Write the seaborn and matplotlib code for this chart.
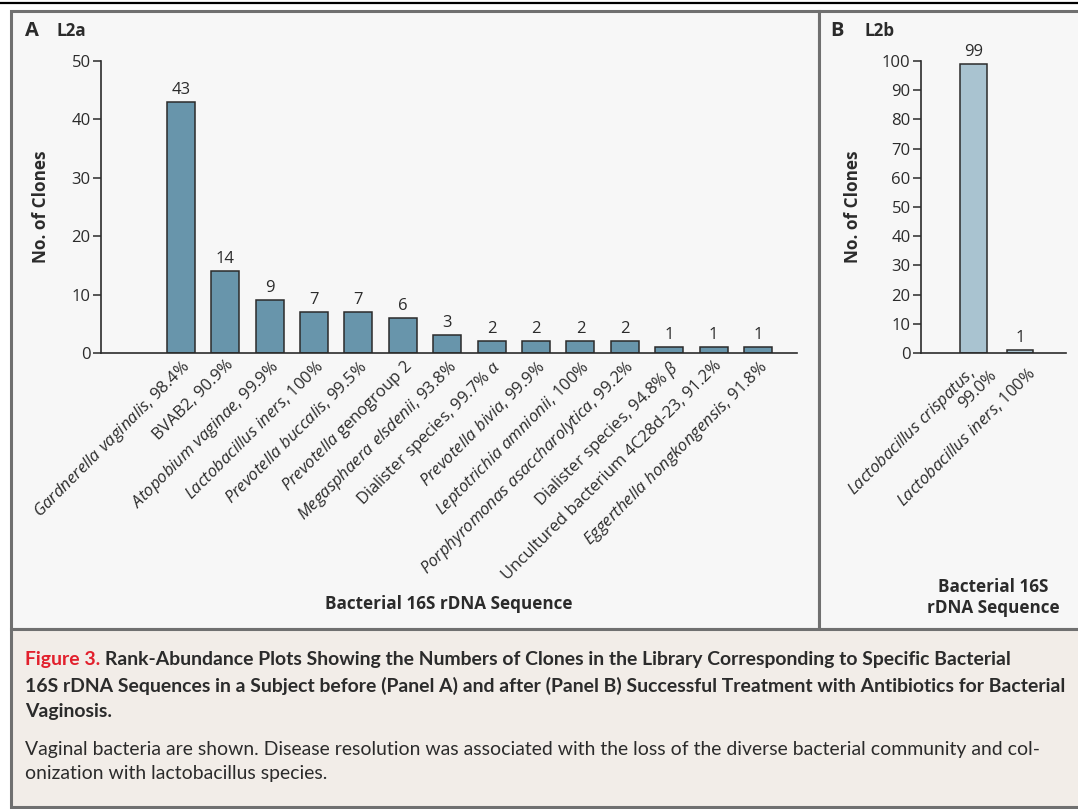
import matplotlib
matplotlib.use("Agg")
import matplotlib.pyplot as plt
import seaborn as sns
import pandas as pd
from matplotlib.patches import Rectangle
from matplotlib.lines import Line2D

# ---- data -------------------------------------------------------------
labels_a = [
    r"$\mathit{Gardnerella\ vaginalis}$, 98.4%",
    "BVAB2, 90.9%",
    r"$\mathit{Atopobium\ vaginae}$, 99.9%",
    r"$\mathit{Lactobacillus\ iners}$, 100%",
    r"$\mathit{Prevotella\ buccalis}$, 99.5%",
    r"$\mathit{Prevotella}$ genogroup 2",
    r"$\mathit{Megasphaera\ elsdenii}$, 93.8%",
    r"Dialister species, 99.7% $\alpha$",
    r"$\mathit{Prevotella\ bivia}$, 99.9%",
    r"$\mathit{Leptotrichia\ amnionii}$, 100%",
    r"$\mathit{Porphyromonas\ asaccharolytica}$, 99.2%",
    r"Dialister species, 94.8% $\beta$",
    "Uncultured bacterium 4C28d-23, 91.2%",
    r"$\mathit{Eggerthella\ hongkongensis}$, 91.8%",
]
clones_a = [43, 14, 9, 7, 7, 6, 3, 2, 2, 2, 2, 1, 1, 1]

taxa_b = ["Lactobacillus crispatus", "Lactobacillus iners"]
identity_b = ["99.0%", "100%"]
clones_b = [99, 1]

yticks_a = [0, 10, 20, 30, 40, 50]
yticks_b = list(range(0, 101, 10))

caption_head = "Figure 3."
caption_title = [
    "Rank-Abundance Plots Showing the Numbers of Clones in the Library Corresponding to Specific Bacterial",
    "16S rDNA Sequences in a Subject before (Panel A) and after (Panel B) Successful Treatment with Antibiotics for Bacterial",
    "Vaginosis.",
]
caption_body = [
    "Vaginal bacteria are shown. Disease resolution was associated with the loss of the diverse bacterial community and col-",
    "onization with lactobacillus species.",
]

# ---- style ------------------------------------------------------------
sns.set_theme(style="white")
plt.rcParams["font.family"] = ["Open Sans", "DejaVu Sans"]
plt.rcParams["mathtext.fontset"] = "custom"
plt.rcParams["mathtext.rm"] = "Open Sans"
plt.rcParams["mathtext.it"] = "Open Sans:italic"
plt.rcParams["mathtext.bf"] = "Open Sans:bold"

INK = "#2b2b2b"
FRAME = "#707070"
PANEL_BG = "#f7f7f7"
CAPTION_BG = "#f2ede8"
BAR_A = "#6895ab"
BAR_B = "#a9c3d0"

TICK_FS = 12
LABEL_FS = 12.3

W, H = 1078, 809
fig = plt.figure(figsize=(W / 100, H / 100), dpi=100)
fig.patch.set_facecolor("white")


def fx(x):
    return x / W


def fy(y):
    return 1 - y / H


def rect(x0, y0, x1, y1, fc, ec=FRAME, lw=2.2):
    fig.patches.append(Rectangle((fx(x0), fy(y1)), fx(x1) - fx(x0), fy(y0) - fy(y1),
                                 transform=fig.transFigure, facecolor=fc,
                                 edgecolor=ec, linewidth=lw, zorder=-10))


# panel frames and caption box
rect(11, 11, 819, 629, PANEL_BG)
rect(819, 11, 1080, 629, PANEL_BG)
rect(11, 629, 1080, 807, CAPTION_BG)
fig.lines.append(Line2D([0, 1], [fy(3), fy(3)], transform=fig.transFigure,
                        color="black", linewidth=1.6))


def axes_px(x0, x1, ytop, ybot):
    ax = fig.add_axes([fx(x0), fy(ybot), fx(x1) - fx(x0), fy(ytop) - fy(ybot)])
    ax.set_facecolor("none")
    ax.set_zorder(5)
    return ax


def style_axes(ax, ymax, yticks):
    ax.set_ylim(0, ymax)
    ax.set_yticks(yticks)
    for side in ("top", "right"):
        ax.spines[side].set_visible(False)
    for side in ("left", "bottom"):
        ax.spines[side].set_color(INK)
        ax.spines[side].set_linewidth(1.2)
    ax.tick_params(axis="y", direction="out", length=6, width=1.1, color=INK,
                   labelsize=TICK_FS, labelcolor=INK, pad=1.5, left=True)
    ax.tick_params(axis="x", length=0, pad=3, labelsize=TICK_FS, labelcolor=INK)
    for lbl in ax.get_xticklabels():
        lbl.set_rotation(45)
        lbl.set_ha("right")
        lbl.set_va("top")
        lbl.set_rotation_mode("anchor")
    ax.set_ylabel("No. of Clones", fontsize=LABEL_FS, fontweight="bold", color=INK)


def slanted(ax, x, text, dx, dy):
    """Rotated category label whose top-right corner sits (dx, dy) px from the tick."""
    ax.annotate(text, xy=(x, 0), xycoords=("data", "axes fraction"),
                xytext=(dx, -dy), textcoords="offset pixels", rotation=45,
                rotation_mode="anchor", ha="right", va="top",
                fontsize=TICK_FS, color=INK, annotation_clip=False)


# ---- panel A ------------------------------------------------------------
ax_a = axes_px(101, 797, 61, 353)
df_a = pd.DataFrame({"taxon": labels_a, "clones": clones_a})
sns.barplot(data=df_a, x="taxon", y="clones", order=labels_a, ax=ax_a,
            color=BAR_A, saturation=1, width=0.63, edgecolor=INK, linewidth=1.1)
ax_a.set_xlim(-1.8, 13.88)
style_axes(ax_a, 50, yticks_a)
ax_a.yaxis.set_label_coords(-0.073, 0.5)
ax_a.bar_label(ax_a.containers[0], padding=3, fontsize=TICK_FS, color=INK)
ax_a.set_xlabel("Bacterial 16S rDNA Sequence", fontsize=LABEL_FS, fontweight="bold",
                color=INK)
ax_a.xaxis.set_label_coords(0.5, -0.83)

# ---- panel B ------------------------------------------------------------
ax_b = axes_px(921, 1066, 61, 353)
df_b = pd.DataFrame({"taxon": taxa_b, "clones": clones_b})
sns.barplot(data=df_b, x="taxon", y="clones", order=taxa_b, ax=ax_b,
            color=BAR_B, saturation=1, width=0.58, edgecolor=INK, linewidth=1.1)
ax_b.set_xlim(-1.13, 1.99)
style_axes(ax_b, 100, yticks_b)
ax_b.tick_params(axis="x", labelbottom=False)
ax_b.yaxis.set_label_coords(-0.41, 0.5)
ax_b.bar_label(ax_b.containers[0], padding=3, fontsize=TICK_FS, color=INK)
ax_b.set_xlabel("Bacterial 16S\nrDNA Sequence", fontsize=LABEL_FS, fontweight="bold",
                color=INK, linespacing=1.25)
ax_b.xaxis.set_label_coords(0.5, -0.77)

# first name is broken over two lines, the percentage set below and to the right
name0 = taxa_b[0].replace(" ", r"\ ")
slanted(ax_b, 0, rf"$\mathit{{{name0}}}$,", -8, 11)
slanted(ax_b, 0, identity_b[0], 15, 14)
name1 = taxa_b[1].replace(" ", r"\ ")
slanted(ax_b, 1, rf"$\mathit{{{name1}}}$, {identity_b[1]}", 6, 11)

# ---- panel letters ------------------------------------------------------
for x_letter, x_tag, letter, tag in [(25, 56, "A", "L2a"), (830, 864, "B", "L2b")]:
    fig.text(fx(x_letter), fy(31), letter, fontsize=14.5, fontweight="bold",
             color=INK, va="center")
    fig.text(fx(x_tag), fy(31), tag, fontsize=12.3, fontweight="bold",
             color=INK, va="center")

# ---- caption ------------------------------------------------------------
renderer = fig.canvas.get_renderer()
cap_family = ["Lato", "DejaVu Sans"]


def text_width(s, size, weight):
    t = fig.text(0, 0, s, fontsize=size, fontweight=weight, family=cap_family)
    w = t.get_window_extent(renderer).width
    t.remove()
    return w


cap_size = 10 * (1068 - 25) / text_width(caption_title[1], 10, "bold")
head = fig.text(fx(25), fy(660), caption_head, fontsize=cap_size, fontweight="bold",
                color="#e2202c", va="center", family=cap_family)
head_w = head.get_window_extent(renderer).width
space_w = text_width("a b", cap_size, "bold") - text_width("ab", cap_size, "bold")
fig.text(fx(25 + head_w + space_w), fy(660), caption_title[0], fontsize=cap_size,
         fontweight="bold", color=INK, va="center", family=cap_family)
for y, line in zip([686, 711], caption_title[1:]):
    fig.text(fx(25), fy(y), line, fontsize=cap_size, fontweight="bold", color=INK,
             va="center", family=cap_family)
for y, line in zip([749, 774], caption_body):
    fig.text(fx(25), fy(y), line, fontsize=cap_size, color=INK, va="center",
             family=cap_family)

fig.savefig("out.png", dpi=100, facecolor=fig.get_facecolor())
